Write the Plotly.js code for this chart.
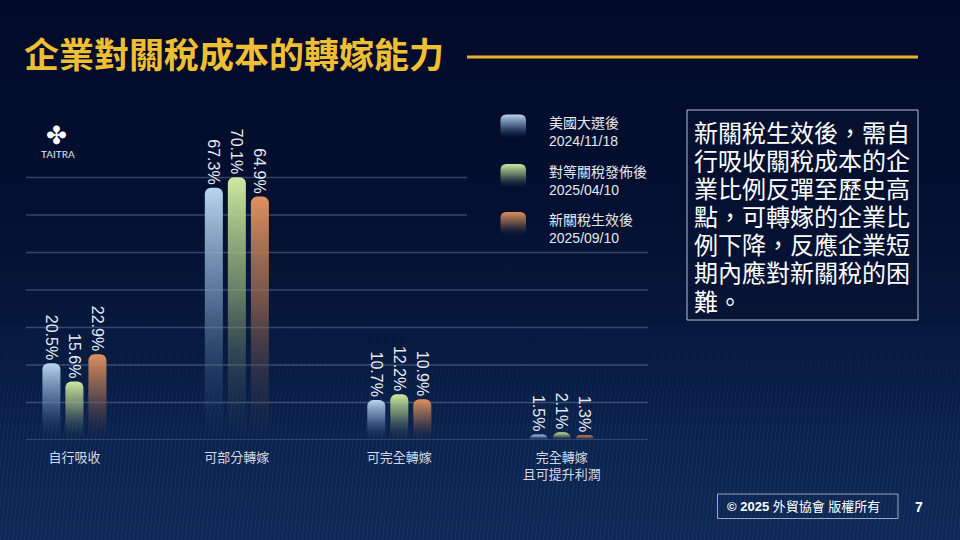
<!DOCTYPE html>
<html>
<head>
<meta charset="utf-8">
<script src="https://cdn.plot.ly/plotly-3.0.1.min.js"></script>
<style>
  html, body { margin:0; padding:0; width:960px; height:540px; overflow:hidden; }
  body { position:relative; background:#030b2b; }
  #bg { position:absolute; left:0; top:0; width:960px; height:540px;
        background: linear-gradient(180deg, #020a29 0%, #031031 40%, #071a40 65%, #0b244f 85%, #0d2a57 100%); }
  #tex { position:absolute; left:0; bottom:0; width:960px; height:230px;
         background: repeating-linear-gradient(96deg, rgba(130,165,220,0.08) 0px, rgba(130,165,220,0.08) 1px, transparent 1px, transparent 4px);
         -webkit-mask-image: linear-gradient(to bottom, transparent 0%, black 55%);
         mask-image: linear-gradient(to bottom, transparent 0%, black 55%); }
  #chart { position:absolute; left:0; top:0; width:960px; height:540px; }
</style>
</head>
<body>
<div id="bg"></div>
<div id="tex"></div>
<svg width="0" height="0" style="position:absolute">
  <defs>
    <linearGradient id="grad0" x1="0" y1="0" x2="0" y2="1">
      <stop offset="0" stop-color="#b9d6f0" stop-opacity="1"/>
      <stop offset="0.45" stop-color="#7595bb" stop-opacity="0.7"/>
      <stop offset="1" stop-color="#2a4570" stop-opacity="0"/>
    </linearGradient>
    <linearGradient id="grad1" x1="0" y1="0" x2="0" y2="1">
      <stop offset="0" stop-color="#cfeaa0" stop-opacity="1"/>
      <stop offset="0.45" stop-color="#8fa879" stop-opacity="0.7"/>
      <stop offset="1" stop-color="#34475a" stop-opacity="0"/>
    </linearGradient>
    <linearGradient id="grad2" x1="0" y1="0" x2="0" y2="1">
      <stop offset="0" stop-color="#e0915e" stop-opacity="1"/>
      <stop offset="0.45" stop-color="#9a6a52" stop-opacity="0.7"/>
      <stop offset="1" stop-color="#3d3848" stop-opacity="0"/>
    </linearGradient>
  </defs>
</svg>
<div id="chart"></div>
<script>
// ---- data ----
const categories = ['自行吸收', '可部分轉嫁', '可完全轉嫁', '完全轉嫁<br>且可提升利潤'];
const seriesNames = ['美國大選後', '對等關稅發佈後', '新關稅生效後'];
const seriesDates = ['2024/11/18', '2025/04/10', '2025/09/10'];
const valsNov2024 = [20.5, 67.3, 10.7, 1.5];
const valsApr2025 = [15.6, 70.1, 12.2, 2.1];
const valsSep2025 = [22.9, 64.9, 10.9, 1.3];
const gridValues = [0, 10, 20, 30, 40, 50, 60, 70];
const titleText = '企業對關稅成本的轉嫁能力';
const noteLines = ['新關稅生效後，需自', '行吸收關稅成本的企', '業比例反彈至歷史高', '點，可轉嫁的企業比', '例下降，反應企業短', '期內應對新關稅的困', '難。'];
const footerText = '<b>© 2025</b> 外貿協會 版權所有';
const pageNumber = '7';
const logoText = 'TAITRA';

// ---- layout helpers (pixel -> paper) ----
const PL = 26, PR = 648, PT = 140, PB = 440;
const px = x => (x - PL) / (PR - PL);
const py = y => (PB - y) / (PB - PT);

const allSeries = [valsNov2024, valsApr2025, valsSep2025];
const baseColors = ['#b9d6f0', '#cfeaa0', '#e0915e'];
const latin = 'Liberation Sans, Noto Sans CJK TC, sans-serif';
const cjk = 'Noto Sans CJK TC, sans-serif';

const traces = allSeries.map((vals, i) => ({
  type: 'bar',
  x: categories,
  y: vals,
  name: seriesNames[i],
  marker: { color: baseColors[i], cornerradius: 6, line: { width: 0 } },
  text: vals.map(v => v.toFixed(1) + '%'),
  textposition: 'outside',
  textangle: 90,
  constraintext: 'none',
  cliponaxis: false,
  textfont: { family: latin, size: 16, color: '#e6eaf1' },
  hoverinfo: 'skip'
}));

const shapes = [];
const annotations = [];

// gridlines
gridValues.forEach(v => {
  shapes.push({ type: 'line', layer: 'below', xref: 'paper', yref: 'y',
    x0: px(26), x1: v >= 60 ? px(467) : px(648), y0: v, y1: v,
    line: { color: 'rgba(150,165,195,0.35)', width: 1.5 } });
});

// title rule
shapes.push({ type: 'line', xref: 'paper', yref: 'paper', x0: px(467), x1: px(918), y0: py(57), y1: py(57),
  line: { color: '#e3b42d', width: 3 } });

// rounded rect path helper
function rrPath(x0, y0, w, h, r) {
  const x1 = x0 + w, y1 = y0 + h;
  const P = (x, y) => px(x).toFixed(5) + ',' + py(y).toFixed(5);
  return 'M' + P(x0 + r, y0) + ' L' + P(x1 - r, y0) + ' Q' + P(x1, y0) + ' ' + P(x1, y0 + r) +
    ' L' + P(x1, y1 - r) + ' Q' + P(x1, y1) + ' ' + P(x1 - r, y1) +
    ' L' + P(x0 + r, y1) + ' Q' + P(x0, y1) + ' ' + P(x0, y1 - r) +
    ' L' + P(x0, y0 + r) + ' Q' + P(x0, y0) + ' ' + P(x0 + r, y0) + ' Z';
}

// legend (custom)
const swatchTops = [114.5, 164, 212];
const entryY = [131.6, 181.3, 229.2];
const swatchIdx = [];
seriesNames.forEach((n, i) => {
  swatchIdx.push(shapes.length);
  shapes.push({ type: 'path', xref: 'paper', yref: 'paper', path: rrPath(500.5, swatchTops[i], 25.5, 23.5, 6),
    fillcolor: baseColors[i], line: { width: 0 } });
  annotations.push({ xref: 'paper', yref: 'paper', x: px(547), y: py(entryY[i]), xanchor: 'left', yanchor: 'middle',
    align: 'left', text: n + '<br>' + seriesDates[i], showarrow: false,
    font: { family: latin, size: 14, color: '#e4e7ee' } });
});

// note box
shapes.push({ type: 'rect', xref: 'paper', yref: 'paper', x0: px(687), x1: px(918), y0: py(110), y1: py(320),
  line: { color: 'rgba(205,210,222,0.9)', width: 1 }, fillcolor: 'rgba(8,18,50,0.55)' });
noteLines.forEach((t, i) => {
  annotations.push({ xref: 'paper', yref: 'paper', x: px(692), y: py(131.7 + 28.05 * i), xanchor: 'left', yanchor: 'middle',
    text: t, showarrow: false, font: { family: cjk, size: 24, color: '#ffffff' } });
});

// footer
shapes.push({ type: 'rect', xref: 'paper', yref: 'paper', x0: px(717.5), x1: px(898), y0: py(494), y1: py(518.5),
  line: { color: 'rgba(190,198,212,0.8)', width: 1 }, fillcolor: 'rgba(0,0,0,0)' });
annotations.push({ xref: 'paper', yref: 'paper', x: px(725), y: py(506.5), xanchor: 'left', yanchor: 'middle',
  text: footerText, showarrow: false, font: { family: latin, size: 13, color: '#ffffff' } });
annotations.push({ xref: 'paper', yref: 'paper', x: px(918.5), y: py(507), xanchor: 'center', yanchor: 'middle',
  text: '<b>' + pageNumber + '</b>', showarrow: false, font: { family: latin, size: 14, color: '#ffffff' } });

// logo
annotations.push({ xref: 'paper', yref: 'paper', x: px(56), y: py(135.5), xanchor: 'center', yanchor: 'middle',
  text: '✤', showarrow: false, font: { family: 'DejaVu Sans', size: 25, color: '#ffffff' } });
annotations.push({ xref: 'paper', yref: 'paper', x: px(58), y: py(154), xanchor: 'center', yanchor: 'middle',
  text: logoText, showarrow: false, font: { family: 'Lato, sans-serif', size: 10, color: '#e2e6ee' } });

const layout = {
  width: 960, height: 540,
  margin: { l: PL, r: 960 - PR, t: PT, b: 540 - PB, pad: 0 },
  paper_bgcolor: 'rgba(0,0,0,0)',
  plot_bgcolor: 'rgba(0,0,0,0)',
  showlegend: false,
  barmode: 'group',
  bargap: 0.575,
  bargroupgap: 0.217,
  title: { text: titleText, xref: 'container', yref: 'container', x: 24 / 960, y: 1 - 56 / 540,
    xanchor: 'left', yanchor: 'middle', font: { family: cjk, size: 35, color: '#efbf33', weight: 700 } },
  xaxis: { type: 'category', range: [-0.298, 3.531], showgrid: false, zeroline: false, showline: false,
    ticks: '', ticklabelstandoff: 8, tickfont: { family: cjk, size: 13, color: '#d2d8e3' }, fixedrange: true },
  yaxis: { range: [0, 80], showgrid: false, zeroline: false, showline: false, showticklabels: false, fixedrange: true },
  shapes: shapes,
  annotations: annotations
};

Plotly.newPlot('chart', traces, layout, { displayModeBar: false, staticPlot: true }).then(gd => {
  gd.querySelectorAll('.barlayer .trace').forEach((tr, i) => {
    tr.querySelectorAll('.point path').forEach(p => { p.style.fill = 'url(#grad' + i + ')'; });
  });
  swatchIdx.forEach((idx, i) => {
    gd.querySelectorAll('.shapelayer path[data-index="' + idx + '"]').forEach(p => { p.style.fill = 'url(#grad' + i + ')'; p.style.fillOpacity = 1; });
  });
});
</script>
</body>
</html>
